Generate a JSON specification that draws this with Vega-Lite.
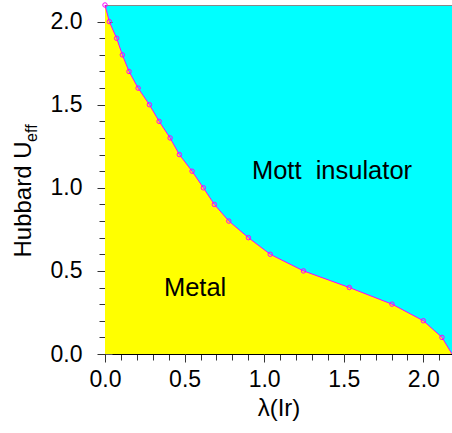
{
  "$schema": "https://vega.github.io/schema/vega-lite/v6.json",
  "autosize": {"type": "none"},
  "padding": {"left": 105, "top": 5, "right": 0, "bottom": 79},
  "width": 347,
  "height": 349,
  "background": "white",
  "config": {
    "view": {"fill": "#00ffff", "stroke": "#888888", "strokeWidth": 1},
    "font": "Liberation Sans",
    "axis": {"grid": false, "zindex": 1, "domainColor": "#000000", "tickColor": "#333333", "labelColor": "#000000", "titleColor": "#000000", "labelFont": "Liberation Sans", "titleFont": "Liberation Sans", "labelFontSize": 23, "titleFontSize": 24, "titleFontWeight": "normal"}
  },
  "data": {"values": [
    {"lambda": 0.0, "U": 2.1},
    {"lambda": 0.027, "U": 2.0},
    {"lambda": 0.073, "U": 1.9},
    {"lambda": 0.109, "U": 1.8},
    {"lambda": 0.151, "U": 1.7},
    {"lambda": 0.208, "U": 1.6},
    {"lambda": 0.279, "U": 1.5},
    {"lambda": 0.34, "U": 1.4},
    {"lambda": 0.409, "U": 1.3},
    {"lambda": 0.467, "U": 1.2},
    {"lambda": 0.547, "U": 1.1},
    {"lambda": 0.618, "U": 1.0},
    {"lambda": 0.687, "U": 0.9},
    {"lambda": 0.778, "U": 0.8},
    {"lambda": 0.901, "U": 0.7},
    {"lambda": 1.038, "U": 0.6},
    {"lambda": 1.247, "U": 0.5},
    {"lambda": 1.535, "U": 0.4},
    {"lambda": 1.803, "U": 0.3},
    {"lambda": 2.0, "U": 0.2},
    {"lambda": 2.117, "U": 0.1},
    {"lambda": 2.18, "U": 0.0}
  ]},
  "resolve": {"axis": {"x": "independent", "y": "independent"}},
  "layer": [
    {
      "mark": {"type": "area", "orient": "horizontal", "color": "#ffff00", "opacity": 1},
      "encoding": {
        "x": {"field": "lambda", "type": "quantitative", "scale": {"domain": [0, 2.18], "nice": false, "zero": false},
          "axis": {"orient": "bottom", "title": "λ(Ir)", "values": [0,0.1,0.2,0.3,0.4,0.5,0.6,0.7,0.8,0.9,1.0,1.1,1.2,1.3,1.4,1.5,1.6,1.7,1.8,1.9,2.0,2.1],
            "labelExpr": "abs(datum.value*2 - round(datum.value*2)) < 0.01 ? format(datum.value, '.1f') : ''",
            "tickSize": {"condition": {"test": "abs(datum.value*2 - round(datum.value*2)) < 0.01", "value": 8}, "value": 6},
            "labelPadding": 6, "labelFlush": false, "labelOverlap": false, "titleX": 173.5, "titleY": 61, "titleBaseline": "alphabetic", "titleAlign": "center"}},
        "y": {"field": "U", "type": "quantitative", "scale": {"domain": [0, 2.1], "nice": false},
          "axis": {"orient": "left", "title": "Hubbard U", "values": [0,0.1,0.2,0.3,0.4,0.5,0.6,0.7,0.8,0.9,1.0,1.1,1.2,1.3,1.4,1.5,1.6,1.7,1.8,1.9,2.0],
            "labelExpr": "abs(datum.value*2 - round(datum.value*2)) < 0.01 ? format(datum.value, '.1f') : ''",
            "tickSize": {"condition": {"test": "abs(datum.value*2 - round(datum.value*2)) < 0.01", "value": 8}, "value": 6},
            "labelPadding": 15, "labelFlush": false, "labelOverlap": false, "titleX": -75, "titleY": 194, "titleAngle": 270, "titleBaseline": "alphabetic", "titleAlign": "center"}}
      }
    },
    {
      "mark": {"type": "line", "color": "#ff00ff", "strokeWidth": 1},
      "encoding": {
        "x": {"field": "lambda", "type": "quantitative", "axis": {"orient": "bottom", "values": [0, 0.5, 1.0, 1.5, 2.0], "tickSize": -7, "labels": false, "domain": false, "title": null, "tickColor": "#555555"}},
        "y": {"field": "U", "type": "quantitative", "axis": {"orient": "left", "values": [0, 0.5, 1.0, 1.5, 2.0], "tickSize": -7, "labels": false, "domain": false, "title": null, "tickColor": "#555555"}},
        "order": {"field": "U", "sort": "descending"}
      }
    },
    {
      "transform": [{"filter": "datum.U > 0"}],
      "mark": {"type": "point", "shape": "circle", "filled": false, "color": "#ff00ff", "size": 20, "strokeWidth": 1, "opacity": 1},
      "encoding": {
        "x": {"field": "lambda", "type": "quantitative", "axis": null},
        "y": {"field": "U", "type": "quantitative", "axis": null}
      }
    },
    {
      "data": {"values": [{"label": "Metal"}]},
      "mark": {"type": "text", "fontSize": 25.5, "align": "center", "baseline": "alphabetic", "color": "#000000", "font": "Liberation Sans"},
      "encoding": {
        "text": {"field": "label"},
        "x": {"datum": 0.566, "type": "quantitative", "axis": null},
        "y": {"datum": 0.35, "type": "quantitative", "axis": null}
      }
    },
    {
      "data": {"values": [{"label": "Mott\u00a0 insulator"}]},
      "mark": {"type": "text", "fontSize": 25.5, "align": "left", "baseline": "alphabetic", "color": "#000000", "font": "Liberation Sans"},
      "encoding": {
        "text": {"field": "label"},
        "x": {"datum": 0.923, "type": "quantitative", "axis": null},
        "y": {"datum": 1.054, "type": "quantitative", "axis": null}
      }
    },
    {
      "data": {"values": [{"label": "eff"}]},
      "mark": {"type": "text", "fontSize": 16, "align": "center", "baseline": "alphabetic", "angle": 270, "color": "#000000", "font": "Liberation Sans"},
      "encoding": {
        "text": {"field": "label"},
        "x": {"datum": -0.428, "type": "quantitative", "axis": null},
        "y": {"datum": 1.329, "type": "quantitative", "axis": null}
      }
    }
  ]
}
